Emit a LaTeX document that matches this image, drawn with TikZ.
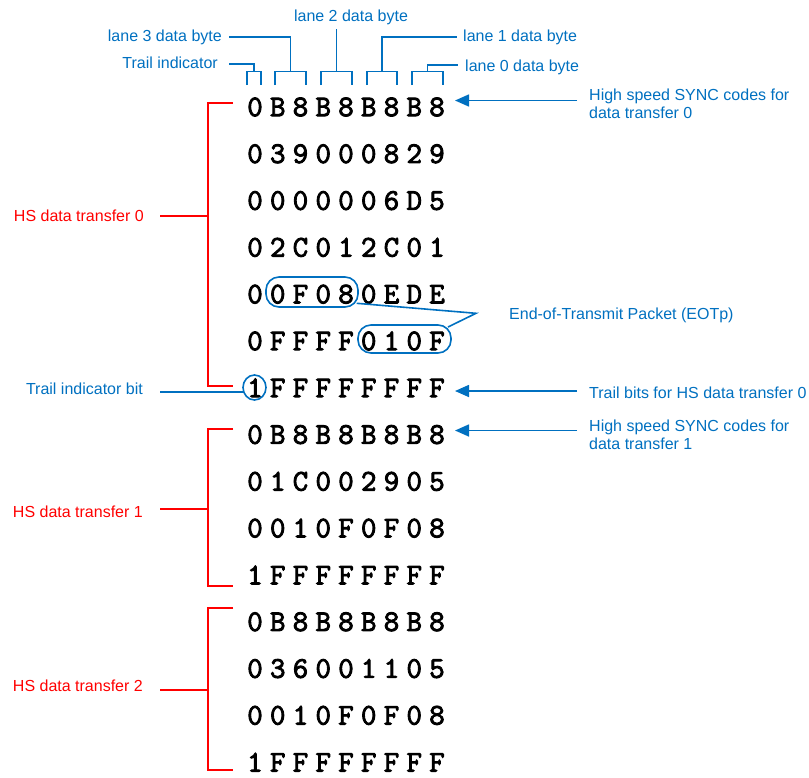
\documentclass[tikz,border=0pt]{standalone}
\usepackage{fontspec}
\setmainfont{Liberation Sans}
\newfontfamily\hexfont[FakeBold=3]{Latin Modern Mono}
\usetikzlibrary{arrows.meta,shapes.geometric}
\definecolor{vblue}{HTML}{0070C0}
\definecolor{vred}{HTML}{FF0000}
\newcommand\myhexchars[1]{\ifx#1\relax\else\makebox[22.75pt]{#1}\expandafter\myhexchars\fi}
\tikzset{
  hexrow/.style={inner sep=0pt, font=\hexfont\fontsize{30}{30}\selectfont},
  bl/.style={draw=vblue, line width=1.6pt},
  rd/.style={draw=vred, line width=2pt},
  blarrow/.style={bl, -{Triangle[length=14pt,width=12pt]}},
  bluelbl/.style={text=vblue, inner sep=0pt, font=\fontsize{16}{18}\selectfont},
  redlbl/.style={text=vred, inner sep=0pt, font=\fontsize{16}{18}\selectfont},
  eotbox/.style={draw=vblue, line width=1.6pt, rounded corners=13pt, inner sep=0pt}
}
\begin{document}
\begin{tikzpicture}[x=1pt,y=-1pt]
\useasboundingbox (0,0) rectangle (809,777);
% data rows
\foreach \t [count=\i] in {0B8B8B8B8,039000829,0000006D5,02C012C01,00F080EDE,0FFFF010F,1FFFFFFFF,0B8B8B8B8,01C002905,0010F0F08,1FFFFFFFF,0B8B8B8B8,036001105,0010F0F08,1FFFFFFFF}{
  \node[hexrow] (r\i) at (346,{107+46.8*(\i-1)}) {\expandafter\myhexchars\t\relax};
}
% top labels
\node[bluelbl, anchor=base east] (ltrail) at (218,68.5) {Trail indicator};
\node[bluelbl, anchor=base east] (l3) at (222,41) {lane 3 data byte};
\node[bluelbl, anchor=base] (l2) at (351,21) {lane 2 data byte};
\node[bluelbl, anchor=base west] (l1) at (463,41) {lane 1 data byte};
\node[bluelbl, anchor=base west] (l0) at (465,71) {lane 0 data byte};
% combs
\draw[bl] (247,85) -- (247,71.5) -- (261,71.5) -- (261,85);
\draw[bl] (254,71.5) -- (254,64) -- (229,64);
\draw[bl] (275,85) -- (275,71.5) -- (306,71.5) -- (306,85);
\draw[bl] (290.5,71.5) -- (290.5,36.7) -- (229,36.7);
\draw[bl] (321,85) -- (321,71.5) -- (352,71.5) -- (352,85);
\draw[bl] (336.5,71.5) -- (336.5,29);
\draw[bl] (367,85) -- (367,71.5) -- (397,71.5) -- (397,85);
\draw[bl] (382,71.5) -- (382,36.7) -- (457,36.7);
\draw[bl] (412,85) -- (412,71.5) -- (443,71.5) -- (443,85);
\draw[bl] (427.5,71.5) -- (427.5,65) -- (458,65);
% right labels and arrows
\node[bluelbl, anchor=north west, align=left] (sync0) at (589,89) {High speed SYNC codes for\\data transfer 0};
\node[bluelbl, anchor=base west] (trailbits) at (589,398.5) {Trail bits for HS data transfer 0};
\node[bluelbl, anchor=north west, align=left] (sync1) at (589,419.5) {High speed SYNC codes for\\data transfer 1};
\coordinate (a0s) at (577,100.5);
\coordinate (a0e) at (455,100.5);
\coordinate (a1s) at (577,391);
\coordinate (a1e) at (455,391);
\coordinate (a2s) at (577,430.5);
\coordinate (a2e) at (455,430.5);
\draw[blarrow] (a0s) -- (a0e);
\draw[blarrow] (a1s) -- (a1e);
\draw[blarrow] (a2s) -- (a2e);
% EOTp
\node[eotbox, minimum width=92pt, minimum height=30pt] (eot1) at (312,292) {};
\node[eotbox, minimum width=93pt, minimum height=28pt] (eot2) at (404.5,339) {};
\node[bluelbl, anchor=base west] (eotlbl) at (509,319) {End-of-Transmit Packet (EOTp)};
\coordinate (vtx) at (476,313.3);
\draw[bl] (356.7,303.3) -- (vtx) -- (448,327);
% trail indicator bit
\node[draw=vblue, line width=1.6pt, ellipse, minimum width=23pt, minimum height=25pt, inner sep=0pt] (tib) at (254.5,387.5) {};
\node[bluelbl, anchor=base east] (tiblbl) at (143,394.5) {Trail indicator bit};
\draw[bl] (160,391.7) -- (243.3,391.7);
% red brackets
\node[redlbl, anchor=base east] (hs0) at (144,221) {HS data transfer 0};
\node[redlbl, anchor=base east] (hs1) at (143,517.3) {HS data transfer 1};
\node[redlbl, anchor=base east] (hs2) at (143,691.7) {HS data transfer 2};
\draw[rd] (233,103) -- (208,103) -- (208,386) -- (233,386);
\draw[rd] (160,215.7) -- (208,215.7);
\draw[rd] (233,429.3) -- (208,429.3) -- (208,585.7) -- (233,585.7);
\draw[rd] (160,509) -- (208,509);
\draw[rd] (233,608.3) -- (208,608.3) -- (208,770) -- (233,770);
\draw[rd] (160,690) -- (208,690);
\end{tikzpicture}
\end{document}
